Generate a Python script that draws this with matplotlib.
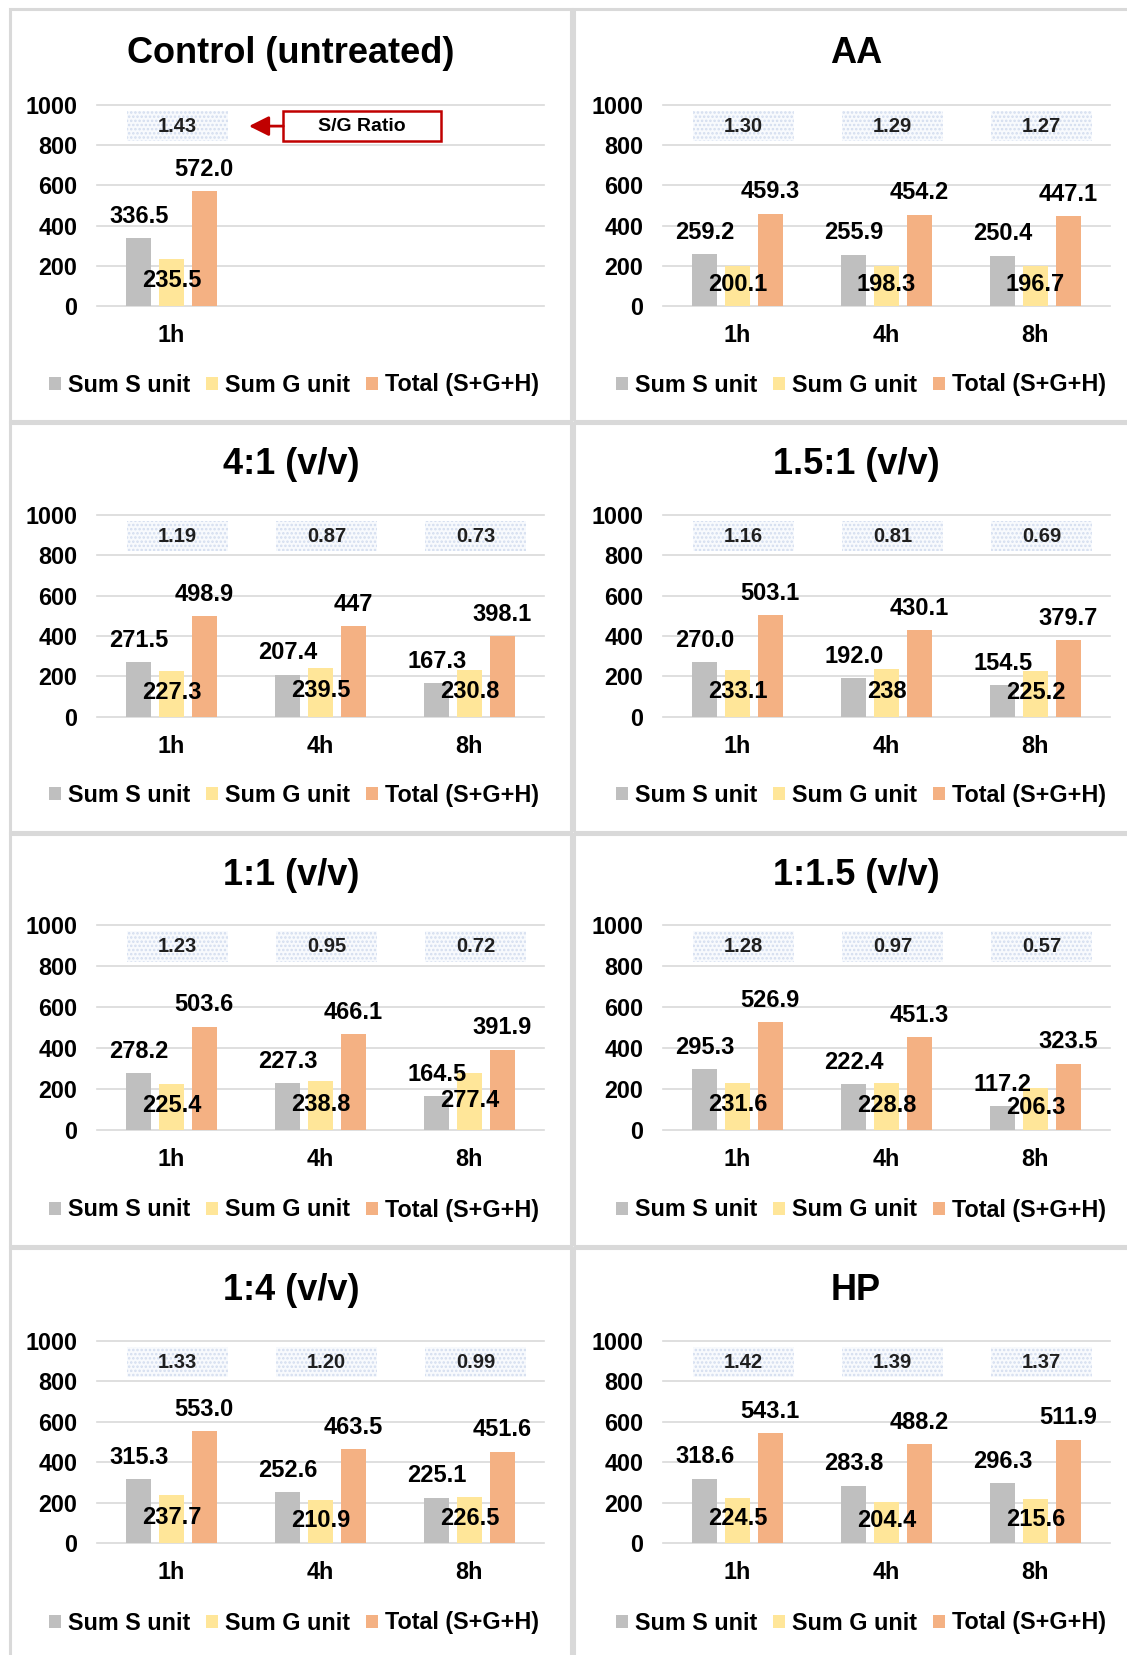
import matplotlib
matplotlib.use("Agg")
import matplotlib.pyplot as plt
from matplotlib.patches import Rectangle

plt.rcParams['font.family'] = ['Liberation Sans', 'DejaVu Sans']
plt.rcParams['font.weight'] = 'bold'
plt.rcParams['hatch.linewidth'] = 1.2

# ---- data ----
times = ['1h', '4h', '8h']
series_names = ['Sum S unit', 'Sum G unit', 'Total (S+G+H)']
colors = ['#bfbfbf', '#ffe699', '#f4b183']

titles = ['Control (untreated)', 'AA', '4:1 (v/v)', '1.5:1 (v/v)',
          '1:1 (v/v)', '1:1.5 (v/v)', '1:4 (v/v)', 'HP']

sum_s = [[336.5],
         [259.2, 255.9, 250.4],
         [271.5, 207.4, 167.3],
         [270.0, 192.0, 154.5],
         [278.2, 227.3, 164.5],
         [295.3, 222.4, 117.2],
         [315.3, 252.6, 225.1],
         [318.6, 283.8, 296.3]]

sum_g = [[235.5],
         [200.1, 198.3, 196.7],
         [227.3, 239.5, 230.8],
         [233.1, 238, 225.2],
         [225.4, 238.8, 277.4],
         [231.6, 228.8, 206.3],
         [237.7, 210.9, 226.5],
         [224.5, 204.4, 215.6]]

total = [[572.0],
         [459.3, 454.2, 447.1],
         [498.9, 447, 398.1],
         [503.1, 430.1, 379.7],
         [503.6, 466.1, 391.9],
         [526.9, 451.3, 323.5],
         [553.0, 463.5, 451.6],
         [543.1, 488.2, 511.9]]

sg_ratio = [[1.43],
            [1.30, 1.29, 1.27],
            [1.19, 0.87, 0.73],
            [1.16, 0.81, 0.69],
            [1.23, 0.95, 0.72],
            [1.28, 0.97, 0.57],
            [1.33, 1.20, 0.99],
            [1.42, 1.39, 1.37]]


def fmt(v):
    if isinstance(v, int):
        return str(v)
    return '{:.1f}'.format(v)


# ---- layout (pixels) ----
W, H = 1127, 1655
fig = plt.figure(figsize=(W / 100, H / 100), dpi=100)

col_axes_x = [97, 663]
axes_w = 447
col_panel = [(9.5, 571), (574, 1140)]
col_title_x = [291, 856]
col_legend_x = [294, 861]
row_axes = [(105, 306), (515, 716.5), (925, 1130), (1341, 1543)]
row_panel = [(9.5, 421), (423, 832), (834, 1246), (1248, 1668)]
row_title_y = [53.5, 465, 875.5, 1291]
row_legend_y = [385, 795.5, 1210, 1623]

fs = 16.8
bw = 0.17
offs = [-0.22, 0, 0.22]
box_shift = 0.04

for i in range(8):
    r, c = divmod(i, 2)

    x0, x1 = col_panel[c]
    y0, y1 = row_panel[r]
    fig.add_artist(Rectangle((x0 / W, 1 - y1 / H), (x1 - x0) / W, (y1 - y0) / H,
                             transform=fig.transFigure, fill=False,
                             ec='#d9d9d9', lw=2.2))

    top, bot = row_axes[r]
    ax = fig.add_axes([col_axes_x[c] / W, 1 - bot / H, axes_w / W, (bot - top) / H])

    fig.text(col_title_x[c] / W, 1 - row_title_y[r] / H, titles[i],
             ha='center', va='center', fontsize=26, fontweight='bold')

    n = len(sum_s[i])
    xs = list(range(n))
    handles = []
    for k, vals in enumerate([sum_s[i], sum_g[i], total[i]]):
        b = ax.bar([x + offs[k] for x in xs], vals, width=bw, color=colors[k], zorder=3)
        handles.append(b)

    for x, v in zip(xs, sum_s[i]):
        ax.annotate(fmt(v), (x + offs[0], v), xytext=(0, 11), textcoords='offset points',
                    ha='center', va='baseline', fontsize=17, zorder=5)
    for x, v in zip(xs, total[i]):
        ax.annotate(fmt(v), (x + offs[2], v), xytext=(0, 11), textcoords='offset points',
                    ha='center', va='baseline', fontsize=17, zorder=5)
    for x, v in zip(xs, sum_g[i]):
        ax.annotate(fmt(v), (x + offs[1], v / 2), xytext=(0, 1), textcoords='offset points',
                    ha='center', va='center', fontsize=17, zorder=5)

    for x, rt in zip(xs, sg_ratio[i]):
        bx = x + box_shift
        ax.add_patch(Rectangle((bx - 0.34, 820), 0.68, 150, fc='#f8fafd', ec='#d3ddef',
                               hatch='....', lw=0, zorder=2))
        ax.text(bx, 895, '{:.2f}'.format(rt), ha='center', va='center',
                fontsize=14.5, fontweight='bold', color='#1f1f1f', zorder=4)

    if i == 0:
        ax.add_patch(Rectangle((0.75, 820), 1.06, 150, fill=False, ec='#c00000',
                               lw=1.8, zorder=4))
        ax.text(1.28, 895, 'S/G Ratio', ha='center', va='center', fontsize=14,
                fontweight='bold', zorder=4)
        ax.annotate('', xy=(0.52, 895), xytext=(0.75, 895),
                    arrowprops=dict(arrowstyle='-|>,head_length=0.6,head_width=0.3',
                                    color='#c00000', lw=2, mutation_scale=20,
                                    shrinkA=0, shrinkB=0), zorder=4)

    ax.set_xlim(-0.5, 2.5)
    ax.set_ylim(0, 1000)
    ax.set_xticks(xs)
    ax.set_xticklabels(times[:n])
    ax.set_yticks(range(0, 1001, 200))
    ax.tick_params(axis='y', length=0, pad=14, labelsize=fs)
    ax.tick_params(axis='x', length=0, pad=13, labelsize=fs)
    ax.yaxis.grid(True, color='#d9d9d9', lw=1.2)
    for gl in ax.get_ygridlines():
        gl.set_clip_on(False)
    ax.set_axisbelow(True)
    for s in ax.spines.values():
        s.set_visible(False)

    ax.legend(handles, series_names, loc='center',
              bbox_to_anchor=(col_legend_x[c] / W, 1 - row_legend_y[r] / H),
              bbox_transform=fig.transFigure, ncol=3, frameon=False, fontsize=fs,
              handlelength=0.5, handleheight=0.5, handletextpad=0.3,
              columnspacing=0.7, borderpad=0)

fig.savefig('out.png', dpi=100)
